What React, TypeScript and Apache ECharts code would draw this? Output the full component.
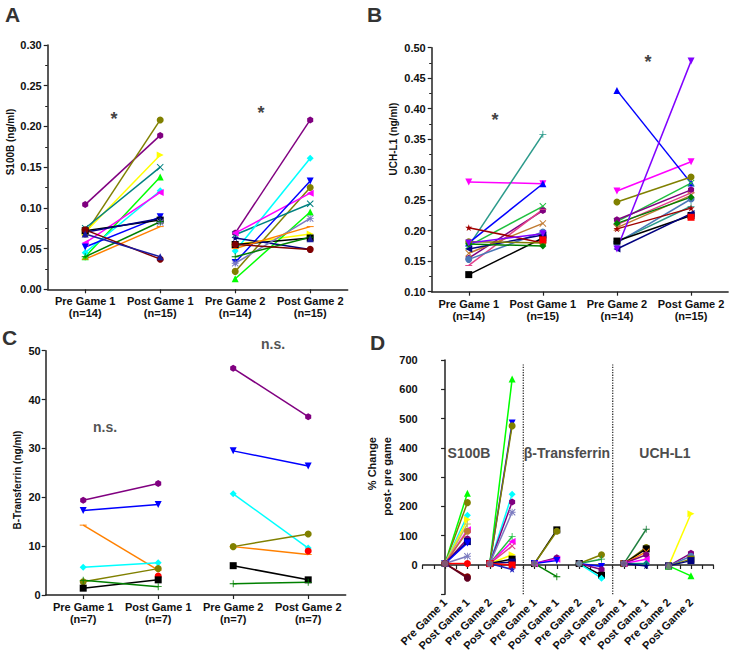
import React, { useEffect, useRef } from "react";
import * as echarts from "echarts";

// ---------- categories / tick labels ----------
const catsAB = ["Pre Game 1\n(n=14)", "Post Game 1\n(n=15)", "Pre Game 2\n(n=14)", "Post Game 2\n(n=15)"];
const catsC = ["Pre Game 1\n(n=7)", "Post Game 1\n(n=7)", "Pre Game 2\n(n=7)", "Post Game 2\n(n=7)"];
const dTickLabels = ["Pre Game 1", "Post Game 1", "Pre Game 2", "Post Game 2"];
const dGroups = ["S100B", "β-Transferrin", "UCH-L1"];

// ---------- Panel A: S100B (ng/ml) ----------
const aPre1 = [0.104, 0.068, 0.070, 0.075, 0.040, 0.045, 0.057, 0.052, 0.072, 0.070, null, 0.040, 0.037, 0.073, 0.068];
const aPost1 = [0.189, 0.208, 0.165, 0.150, 0.138, 0.121, 0.119, 0.089, 0.085, 0.087, 0.082, 0.083, 0.077, 0.037, 0.040];
const aPre2 = [0.069, 0.022, 0.055, 0.067, 0.013, 0.047, 0.069, 0.033, 0.055, 0.063, 0.032, 0.040, 0.050, 0.055, null];
const aPost2 = [0.208, 0.125, 0.068, 0.105, 0.095, 0.161, 0.118, 0.133, 0.063, 0.049, 0.087, 0.064, 0.077, 0.049, 0.062];
const aColors = ["#800080", "#808000", "#ffff00", "#008080", "#00ff00", "#00ffff", "#ff00ff", "#0000ff", "#000000", "#000080", "#7b7bc0", "#008000", "#ff8000", "#800000", "#1a1aa0"];
const aSymbols = ["hex", "circle", "right", "cross", "up", "diamond", "left", "down", "square", "star", "aster", "plus", "dash", "circle", "up"];

// ---------- Panel B: UCH-L1 (ng/ml) ----------
const bPre1 = [0.280, 0.175, 0.180, 0.175, 0.155, 0.143, 0.163, 0.153, 0.128, 0.170, 0.205, 0.182, 0.178, 0.180, null];
const bPost1 = [0.277, 0.358, 0.277, 0.240, 0.233, 0.235, 0.212, 0.198, 0.188, 0.193, 0.180, 0.180, 0.175, 0.195, 0.185];
const bPre2 = [0.265, 0.182, 0.430, 0.215, 0.218, 0.210, 0.205, 0.180, 0.183, 0.170, 0.203, 0.247, 0.212, 0.170, null];
const bPost2 = [0.313, 0.240, 0.278, 0.278, 0.267, 0.262, 0.258, 0.252, 0.225, 0.228, 0.237, 0.288, 0.255, 0.478, 0.222];
const bColors = ["#ff00ff", "#2a9a8a", "#0000ff", "#20c040", "#800080", "#e0408a", "#c07a30", "#4a78b8", "#000000", "#000080", "#a00000", "#808000", "#008000", "#8000ff", "#ff0000"];
const bSymbols = ["down", "plus", "up", "cross", "hex", "dash", "cross", "circle", "square", "left", "star", "circle", "diamond", "down", "square"];

// ---------- Panel C: B-Transferrin (ng/ml) ----------
const cPre1 = [19.4, 17.3, 14.3, 5.7, 2.7, null, 1.4, 3.0];
const cPost1 = [22.8, 18.5, 5.1, 6.6, 5.4, 3.9, 3.1, 1.7];
const cPre2 = [46.4, 29.5, 9.9, 20.7, 9.9, null, 6.0, 2.3];
const cPost2 = [36.5, 26.4, 8.3, 9.6, 12.5, 9.0, 3.1, 2.6];
const cColors = ["#800080", "#0000ff", "#ff8000", "#00ffff", "#808000", "#ff0000", "#000000", "#008000"];
const cSymbols = ["hex", "down", "dash", "diamond", "circle", "circle", "square", "plus"];

// ---------- Panel D: % change post- pre game ----------
const dS100bPre = [5, 5];
const dS100bPost1 = [245, 213, 170, 155, 140, 120, 115, 90, 80, 75, 30, 5, -40, -45];
const dS100bPost2 = [635, 485, 475, 242, 215, 180, 97, 80, 65, 35, 20, 10, 0, -15];
const dTransPre = [5, 5];
const dTransPost1 = [120, 115, 25, 20, 15, -40];
const dTransPost2 = [35, 20, -5, -15, -35, -45];
const dUchPre = [5, -3];
const dUchPost1 = [122, 60, 55, 45, 35, 20, 5, -3];
const dUchPost2 = [175, 40, 30, 20, 15, -37];

const dS100bColors1 = ["#00ff00", "#808000", "#00ffff", "#ffff00", "#c0c060", "#ff00ff", "#c07a30", "#800080", "#000080", "#0000ff", "#7b7bc0", "#ff0000", "#800000", "#600020"];
const dS100bSymbols1 = ["up", "circle", "diamond", "right", "plus", "left", "circle", "hex", "square", "down", "aster", "circle", "circle", "circle"];
const dS100bColors2 = ["#00ff00", "#0000ff", "#808000", "#00ffff", "#800080", "#7b7bc0", "#20c040", "#ff00ff", "#e0408a", "#ffff00", "#000000", "#000080", "#ff0000", "#2020c0"];
const dS100bSymbols2 = ["up", "down", "circle", "diamond", "hex", "aster", "plus", "left", "cross", "right", "square", "square", "square", "star"];
const dTransColors1 = ["#000000", "#808000", "#800080", "#ff00ff", "#0000ff", "#008000"];
const dTransSymbols1 = ["square", "circle", "hex", "left", "down", "plus"];
const dTransColors2 = ["#808000", "#20a040", "#0000ff", "#800080", "#000000", "#00ffff"];
const dTransSymbols2 = ["circle", "plus", "down", "hex", "square", "diamond"];
const dUchColors1 = ["#208040", "#808000", "#000000", "#ff8000", "#800080", "#ff00ff", "#008080", "#000080"];
const dUchSymbols1 = ["plus", "circle", "square", "cross", "hex", "left", "diamond", "star"];
const dUchColors2 = ["#ffff00", "#800080", "#4a78b8", "#808000", "#000080", "#00ff00"];
const dUchSymbols2 = ["right", "hex", "circle", "square", "square", "up"];

// ---------- symbol helpers ----------
const PATHS: Record<string, string> = {
  hex: "path://M5,0 L9.33,2.5 L9.33,7.5 L5,10 L0.67,7.5 L0.67,2.5 Z",
  star: "path://M5,0 L6.18,3.6 L10,3.6 L6.9,5.9 L8.1,9.5 L5,7.3 L1.9,9.5 L3.1,5.9 L0,3.6 L3.82,3.6 Z",
  plus: "path://M4.4,0 H5.6 V4.4 H10 V5.6 H5.6 V10 H4.4 V5.6 H0 V4.4 H4.4 Z",
  cross: "path://M1,0 L5,4 L9,0 L10,1 L6,5 L10,9 L9,10 L5,6 L1,10 L0,9 L4,5 L0,1 Z",
  aster: "path://M4.4,0 H5.6 V10 H4.4 Z M0,4.4 H10 V5.6 H0 Z M1,0 L10,9 L9,10 L0,1 Z M9,0 L10,1 L1,10 L0,9 Z",
  dash: "path://M0,4.3 H10 V5.7 H0 Z",
};
function sym(name: string) {
  switch (name) {
    case "circle": return { symbol: "circle", symbolRotate: 0 };
    case "square": return { symbol: "rect", symbolRotate: 0 };
    case "up": return { symbol: "triangle", symbolRotate: 0 };
    case "down": return { symbol: "triangle", symbolRotate: 180 };
    case "left": return { symbol: "triangle", symbolRotate: 90 };
    case "right": return { symbol: "triangle", symbolRotate: -90 };
    case "diamond": return { symbol: "diamond", symbolRotate: 0 };
    default: return { symbol: PATHS[name], symbolRotate: 0 };
  }
}

const FONT = "Liberation Sans";
const AXIS_COLOR = "#222";

function pairSeries(idx: number, pre: (number | null)[], post: (number | null)[], colors: string[], symbols: string[], first: boolean) {
  const out: any[] = [];
  for (let i = 0; i < post.length; i++) {
    const p = pre[i];
    const q = post[i];
    const data = first
      ? [p == null ? "-" : p, q == null ? "-" : q, "-", "-"]
      : ["-", "-", p == null ? "-" : p, q == null ? "-" : q];
    const s = sym(symbols[i]);
    out.push({
      type: "line",
      xAxisIndex: idx,
      yAxisIndex: idx,
      data,
      symbol: s.symbol,
      symbolRotate: s.symbolRotate,
      symbolKeepAspect: true,
      symbolSize: 7,
      showSymbol: true,
      lineStyle: { color: colors[i], width: 1.5 },
      itemStyle: { color: colors[i] },
      connectNulls: false,
      silent: true,
    });
  }
  return out;
}

function dSeries(x0: number, pre: number, post: number[], colors: string[], symbols: string[]) {
  return post.map((v, i) => {
    const s = sym(symbols[i]);
    return {
      type: "line",
      xAxisIndex: 3,
      yAxisIndex: 3,
      data: [[x0, pre], [x0 + 1, v]],
      symbol: s.symbol,
      symbolRotate: s.symbolRotate,
      symbolKeepAspect: true,
      symbolSize: 7,
      showSymbol: true,
      lineStyle: { color: colors[i], width: 1.5 },
      itemStyle: { color: colors[i] },
      silent: true,
    };
  });
}

function catXAxis(gridIndex: number, data: string[]) {
  return {
    type: "category",
    gridIndex,
    data,
    boundaryGap: true,
    axisLine: { show: true, lineStyle: { color: AXIS_COLOR, width: 1.5 } },
    axisTick: { show: true, alignWithLabel: true, length: 4, lineStyle: { color: AXIS_COLOR, width: 1.2 } },
    axisLabel: { interval: 0, fontFamily: FONT, fontWeight: "bold", fontSize: 11, color: "#111", lineHeight: 12, margin: 6 },
    splitLine: { show: false },
  };
}

function valYAxis(gridIndex: number, min: number, max: number, interval: number, digits: number, hideMin = false) {
  return {
    type: "value",
    gridIndex,
    min,
    max,
    interval,
    axisLine: { show: true, lineStyle: { color: AXIS_COLOR, width: 1.5 } },
    axisTick: { show: true, length: 4, lineStyle: { color: AXIS_COLOR, width: 1.2 } },
    minorTick: { show: digits > 0, splitNumber: 2, length: 2.5, lineStyle: { color: AXIS_COLOR, width: 1 } },
    splitLine: { show: false },
    minorSplitLine: { show: false },
    axisLabel: {
      fontFamily: FONT,
      fontWeight: "bold",
      fontSize: 11,
      color: "#111",
      margin: digits > 0 ? 6 : 5,
      formatter: (v: number) => (hideMin && Math.abs(v - min) < 1e-9 ? "" : v.toFixed(digits)),
    },
  };
}

function txt(x: number, y: number, text: string, size: number, opts: any = {}) {
  return {
    type: "text",
    x,
    y,
    rotation: opts.rotation || 0,
    silent: true,
    style: {
      text,
      fontFamily: FONT,
      fontWeight: "bold",
      fontSize: size,
      fill: opts.fill || "#111",
      textAlign: opts.align || "center",
      textVerticalAlign: opts.valign || "middle",
    },
  };
}

export default function App() {
  const ref = useRef<HTMLDivElement>(null);
  useEffect(() => {
    if (!ref.current) return;
    const chart = echarts.init(ref.current, null, { renderer: "svg" });

    const series: any[] = [
      ...pairSeries(0, aPre1, aPost1, aColors, aSymbols, true),
      ...pairSeries(0, aPre2, aPost2, aColors, aSymbols, false),
      ...pairSeries(1, bPre1, bPost1, bColors, bSymbols, true),
      ...pairSeries(1, bPre2, bPost2, bColors, bSymbols, false),
      ...pairSeries(2, cPre1, cPost1, cColors, cSymbols, true),
      ...pairSeries(2, cPre2, cPost2, cColors, cSymbols, false),
      ...dSeries(0, dS100bPre[0], dS100bPost1, dS100bColors1, dS100bSymbols1),
      ...dSeries(2, dS100bPre[1], dS100bPost2, dS100bColors2, dS100bSymbols2),
      ...dSeries(4, dTransPre[0], dTransPost1, dTransColors1, dTransSymbols1),
      ...dSeries(6, dTransPre[1], dTransPost2, dTransColors2, dTransSymbols2),
      ...dSeries(8, dUchPre[0], dUchPost1, dUchColors1, dUchSymbols1),
      ...dSeries(10, dUchPre[1], dUchPost2, dUchColors2, dUchSymbols2),
      {
        type: "scatter",
        xAxisIndex: 3,
        yAxisIndex: 3,
        data: [[0, dS100bPre[0]], [2, dS100bPre[1]], [4, dTransPre[0]], [6, dTransPre[1]], [8, dUchPre[0]], [10, dUchPre[1]]],
        symbol: "circle",
        symbolSize: 7,
        itemStyle: { color: "#8a6a8a" },
        silent: true,
        z: 5,
      },
      {
        type: "line",
        xAxisIndex: 3,
        yAxisIndex: 3,
        data: [[3.5, -100], [3.5, 685]],
        symbol: "none",
        lineStyle: { color: "#333", width: 1.3, type: "dotted" },
        silent: true,
      },
      {
        type: "line",
        xAxisIndex: 3,
        yAxisIndex: 3,
        data: [[7.5, -100], [7.5, 685]],
        symbol: "none",
        lineStyle: { color: "#333", width: 1.3, type: "dotted" },
        silent: true,
      },
    ];

    const option: any = {
      animation: false,
      backgroundColor: "#ffffff",
      grid: [
        { left: 47.7, top: 45, width: 300, height: 244.3 },
        { left: 431.7, top: 47.7, width: 296.4, height: 244 },
        { left: 45.7, top: 350.7, width: 300, height: 244.3 },
        { left: 422.7, top: 360, width: 290.6, height: 234.3 },
      ],
      xAxis: [
        catXAxis(0, catsAB),
        catXAxis(1, catsAB),
        catXAxis(2, catsC),
        {
          type: "value",
          gridIndex: 3,
          min: -1,
          max: 12,
          interval: 0.5,
          axisLine: { show: true, lineStyle: { color: AXIS_COLOR, width: 1.5 } },
          axisTick: { show: true, length: 4, lineStyle: { color: AXIS_COLOR, width: 1.2 } },
          splitLine: { show: false },
          axisLabel: {
            rotate: 45,
            margin: 6,
            fontFamily: FONT,
            fontWeight: "bold",
            fontSize: 11,
            color: "#111",
            formatter: (v: number) => {
              const r = Math.round(v);
              if (Math.abs(v - r) > 1e-6 || r < 0 || r > 11) return "";
              return dTickLabels[r % 4];
            },
          },
        },
      ],
      yAxis: [
        valYAxis(0, 0, 0.3, 0.05, 2),
        valYAxis(1, 0.1, 0.5, 0.05, 2),
        valYAxis(2, 0, 50, 10, 0),
        valYAxis(3, -100, 700, 100, 0, true),
      ],
      series,
      graphic: [
        txt(5, 14, "A", 21, { align: "left", fill: "#333" }),
        txt(367, 14, "B", 21, { align: "left", fill: "#333" }),
        txt(2, 337, "C", 21, { align: "left", fill: "#333" }),
        txt(370, 342, "D", 21, { align: "left", fill: "#333" }),
        txt(10, 142, "S100B (ng/ml)", 10, { rotation: Math.PI / 2 }),
        txt(393, 139, "UCH-L1 (ng/ml)", 10, { rotation: Math.PI / 2 }),
        txt(17, 480, "B-Transferrin (ng/ml)", 10, { rotation: Math.PI / 2 }),
        txt(372, 437, "% Change", 11, { rotation: Math.PI / 2, align: "right" }),
        txt(387, 437, "post- pre game", 11, { rotation: Math.PI / 2, align: "right" }),
        txt(114, 119, "*", 18, { fill: "#444" }),
        txt(261, 113, "*", 18, { fill: "#444" }),
        txt(495, 120, "*", 18, { fill: "#444" }),
        txt(648, 62, "*", 18, { fill: "#444" }),
        txt(105, 427, "n.s.", 14, { fill: "#555" }),
        txt(273, 344, "n.s.", 14, { fill: "#555" }),
        txt(469, 453, dGroups[0], 14, { fill: "#4d4d4d" }),
        txt(567, 453, dGroups[1], 14, { fill: "#4d4d4d" }),
        txt(665, 453, dGroups[2], 14, { fill: "#4d4d4d" }),
      ],
    };
    chart.setOption(option);
    return () => chart.dispose();
  }, []);
  return <div ref={ref} style={{ position: "absolute", left: 0, top: 0, width: 735, height: 654 }} />;
}
